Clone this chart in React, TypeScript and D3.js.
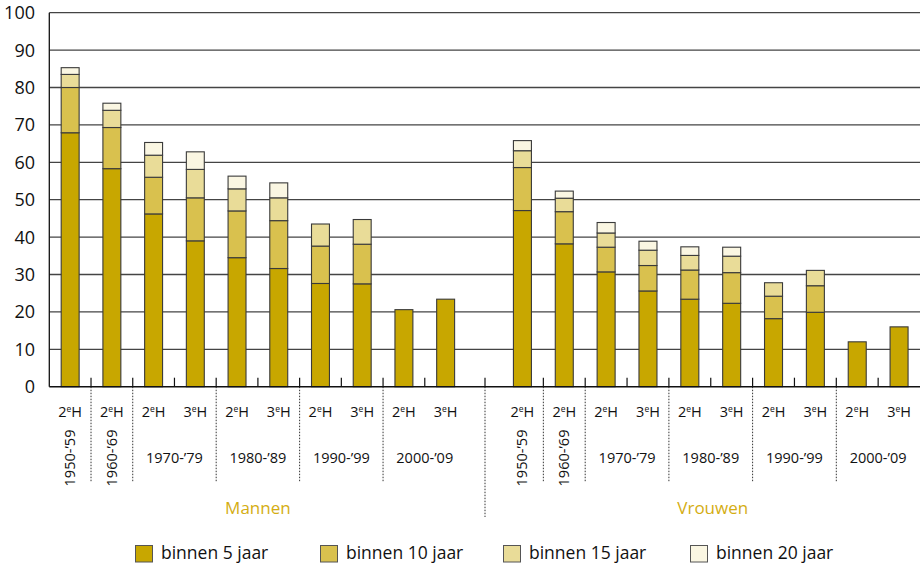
import React from 'react';
import * as d3 from 'd3';

// periods and generation per bar (same for both sexes)
const periods = ['1950-’59', '1960-’69', '1970-’79', '1970-’79', '1980-’89', '1980-’89', '1990-’99', '1990-’99', '2000-’09', '2000-’09'];
const generations = ['2', '2', '2', '3', '2', '3', '2', '3', '2', '3'];

// cumulative shares (null = not available)
const mannen5 = [67.9, 58.3, 46.2, 39.0, 34.5, 31.6, 27.6, 27.5, 20.6, 23.4];
const mannen10 = [80.0, 69.3, 56.0, 50.5, 47.0, 44.4, 37.6, 38.1, null, null];
const mannen15 = [83.5, 73.9, 61.9, 58.1, 52.9, 50.5, 43.5, 44.7, null, null];
const mannen20 = [85.3, 75.8, 65.3, 62.8, 56.3, 54.5, null, null, null, null];

const vrouwen5 = [47.1, 38.2, 30.7, 25.6, 23.4, 22.3, 18.2, 19.9, 12.0, 16.0];
const vrouwen10 = [58.6, 46.8, 37.3, 32.4, 31.2, 30.5, 24.2, 27.0, null, null];
const vrouwen15 = [63.1, 50.4, 41.1, 36.5, 35.1, 34.9, 27.8, 31.1, null, null];
const vrouwen20 = [65.8, 52.3, 43.9, 38.9, 37.4, 37.3, null, null, null, null];

const seriesNames = ['binnen 5 jaar', 'binnen 10 jaar', 'binnen 15 jaar', 'binnen 20 jaar'];
const colors = ['#c8a700', '#d9c14e', '#e9dc98', '#faf6e2'];
const yTicks = [0, 10, 20, 30, 40, 50, 60, 70, 80, 90, 100];

const font = '"Open Sans", "Noto Sans", sans-serif';

type Panel = { name: string; series: (number | null)[][]; range: [number, number] };

const App = () => {
  const width = 920;
  const height = 567;
  const margin = { top: 12.7, bottom: 386.7, left: 49.3, right: 920 };

  const y = d3.scaleLinear().domain([0, 100]).range([margin.bottom, margin.top]);

  const panels: Panel[] = [
    { name: 'Mannen', series: [mannen5, mannen10, mannen15, mannen20], range: [margin.left, 466.5] },
    { name: 'Vrouwen', series: [vrouwen5, vrouwen10, vrouwen15, vrouwen20], range: [501.5, margin.right] },
  ];
  const divider = (466.5 + 501.5) / 2 + 1;

  const idx = d3.range(periods.length).map(String);

  // group boundaries: indexes where the period changes
  const groupStarts = idx.filter((k, i) => i > 0 && periods[i] !== periods[i - 1]).map(Number);
  const groups = d3.groups(periods.map((p, i) => ({ p, i })), d => d.p);

  return (
    <svg width={width} height={height} style={{ position: 'absolute', left: 0, top: 0, fontFamily: font }}>
      <rect width={width} height={height} fill='#fff' />
      {/* grid */}
      {yTicks.map(t => (
        <g key={`y-${t}`}>
          {t > 0 && (
            <line x1={margin.left} x2={margin.right} y1={y(t)} y2={y(t)} stroke='#444' strokeWidth='1.3' />
          )}
          <text x={35} y={y(t)} dy='0.36em' textAnchor='end' fontSize='18' fill='#111'>
            {t}
          </text>
        </g>
      ))}

      {panels.map(panel => {
        const x = d3.scaleBand<string>().domain(idx).range(panel.range);
        const bw = x.bandwidth() * 0.43;
        const center = (i: number) => (x(String(i)) as number) + x.bandwidth() / 2;
        const mid = (panel.range[0] + panel.range[1]) / 2;
        return (
          <g key={panel.name}>
            {/* stacked bars */}
            {idx.map((k, i) => {
              let prev = 0;
              return panel.series.map((s, j) => {
                const v = s[i];
                if (v == null) return null;
                const y0 = prev;
                prev = v;
                return (
                  <rect
                    key={`${panel.name}-${i}-${j}`}
                    x={center(i) - bw / 2}
                    y={y(v)}
                    width={bw}
                    height={y(y0) - y(v)}
                    fill={colors[j]}
                    stroke='#3a3a3a'
                    strokeWidth='1.1'
                  />
                );
              });
            })}
            {/* ticks above axis */}
            {idx.slice(1).map(k => (
              <line
                key={`tick-${panel.name}-${k}`}
                x1={x(k)}
                x2={x(k)}
                y1={y(0)}
                y2={y(0) - 9}
                stroke='#111'
                strokeWidth='1.2'
              />
            ))}
            {/* dotted group separators */}
            {groupStarts.map(i => (
              <line
                key={`sep-${panel.name}-${i}`}
                x1={x(String(i))}
                x2={x(String(i))}
                y1={y(0)}
                y2={482}
                stroke='#333'
                strokeWidth='1'
                strokeDasharray='1.5 1.5'
              />
            ))}
            {/* generation labels */}
            {idx.map((k, i) => (
              <text key={`gen-${panel.name}-${i}`} x={center(i)} y={417} textAnchor='middle' fontSize='14.5' fill='#111'>
                {generations[i]}
                <tspan fontSize='8.5' dy='-5'>e</tspan>
                <tspan dy='5'>H</tspan>
              </text>
            ))}
            {/* period labels */}
            {groups.map(([p, items]) => {
              const cx = d3.mean(items, d => center(d.i)) as number;
              if (items.length === 1) {
                return (
                  <text
                    key={`p-${panel.name}-${p}`}
                    transform={`translate(${cx + 5}, 458) rotate(-90)`}
                    textAnchor='middle'
                    fontSize='14.5'
                    fill='#111'
                  >
                    {p}
                  </text>
                );
              }
              return (
                <text key={`p-${panel.name}-${p}`} x={cx} y={463} textAnchor='middle' fontSize='14.5' fill='#111'>
                  {p}
                </text>
              );
            })}
            <text x={mid + (panel.name === 'Mannen' ? 0 : 2)} y={514} textAnchor='middle' fontSize='17' fill='#d4ad12'>
              {panel.name}
            </text>
          </g>
        );
      })}

      {/* divider between the two panels */}
      <line x1={divider} x2={divider} y1={y(0)} y2={y(0) - 9} stroke='#111' strokeWidth='1.2' />
      <line x1={divider} x2={divider} y1={y(0)} y2={517} stroke='#333' strokeWidth='1' strokeDasharray='1.5 1.5' />

      {/* axes */}
      <line x1={margin.left} x2={margin.left} y1={margin.top} y2={y(0)} stroke='#111' strokeWidth='1.3' />
      <line x1={margin.left} x2={margin.right} y1={y(0)} y2={y(0)} stroke='#111' strokeWidth='1.4' />

      {/* legend */}
      {seriesNames.map((n, i) => {
        const lx = [135, 320, 503, 690][i];
        return (
          <g key={n} transform={`translate(${lx}, 545)`}>
            <rect x={0.5} y={0.5} width={17} height={16.5} fill={colors[i]} stroke='#555' strokeWidth='1' />
            <text x={26} y={14} fontSize='17.5' fill='#111'>
              {n}
            </text>
          </g>
        );
      })}
    </svg>
  );
};

export default App;
